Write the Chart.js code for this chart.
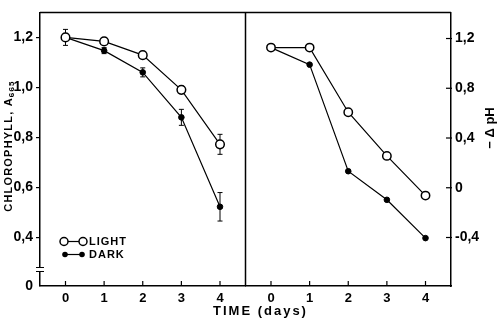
<!DOCTYPE html>
<html>
<head>
<meta charset="utf-8">
<script src="https://cdn.jsdelivr.net/npm/chart.js@4/dist/chart.umd.min.js"></script>
<style>
  html, body { margin: 0; padding: 0; background: #fff; }
  #wrap { width: 501px; height: 318px; }
</style>
</head>
<body>
<div id="wrap"><canvas id="chart" width="501" height="318"></canvas></div>
<script>
// chlorophyll (left) and -ΔpH (right) against time
const days = [0, 1, 2, 3, 4];
const chlLight = [1.20, 1.184, 1.129, 0.99, 0.772];
const chlLightErr = [0.032, 0.01, 0.012, 0.015, 0.04];
const chlDark = [1.20, 1.147, 1.06, 0.88, 0.522];
const chlDarkErr = [0, 0.012, 0.018, 0.032, 0.057];
const phLight = [1.127, 1.127, 0.607, 0.256, -0.063];
const phDark = [1.127, 0.99, 0.133, -0.097, -0.405];
const chlTicks = [0.4, 0.6, 0.8, 1.0, 1.2];
const phTicks = [-0.4, 0, 0.4, 0.8, 1.2];
const chlBottom = 0.205; // shown as "0" after the axis break

const FONT = '"Liberation Sans", Arial, Helvetica, sans-serif';

function pts(ys) {
  return days.map((d, i) => ({ x: d, y: ys[i] }));
}

function commaLabel(v) {
  if (Math.abs(v) < 1e-9) return "0";
  return v.toFixed(1).replace(".", ",");
}

const openStyle = {
  borderColor: "#000", borderWidth: 1.2,
  pointRadius: 4.3, pointBackgroundColor: "#fff",
  pointBorderColor: "#000", pointBorderWidth: 1.5, tension: 0
};
const filledStyle = {
  borderColor: "#000", borderWidth: 1.2,
  pointRadius: 2.8, pointBackgroundColor: "#000",
  pointBorderColor: "#000", pointBorderWidth: 1, tension: 0
};

function line(ctx, x1, y1, x2, y2) {
  ctx.beginPath();
  ctx.moveTo(x1, y1);
  ctx.lineTo(x2, y2);
  ctx.stroke();
}

const extras = {
  id: "extras",
  beforeDatasetsDraw(chart) {
    const ctx = chart.ctx;
    const xs = chart.scales.x1, ys = chart.scales.y1;
    ctx.save();
    ctx.strokeStyle = "#000";
    ctx.lineWidth = 1;
    [[chlLight, chlLightErr], [chlDark, chlDarkErr]].forEach(([vals, errs]) => {
      vals.forEach((v, i) => {
        if (!errs[i]) return;
        const px = xs.getPixelForValue(days[i]);
        const top = ys.getPixelForValue(v + errs[i]);
        const bot = ys.getPixelForValue(v - errs[i]);
        line(ctx, px, top, px, bot);
        line(ctx, px - 2.5, top, px + 2.5, top);
        line(ctx, px - 2.5, bot, px + 2.5, bot);
      });
    });
    ctx.restore();
  },
  afterDraw(chart) {
    const ctx = chart.ctx;
    const a = chart.chartArea;
    const x1 = chart.scales.x1, x2 = chart.scales.x2, y2 = chart.scales.y2;
    ctx.save();
    ctx.strokeStyle = "#000";
    ctx.fillStyle = "#000";
    ctx.lineWidth = 1.5;
    // frame top and divider
    line(ctx, a.left, a.top, a.right, a.top);
    line(ctx, x1.right, a.top, x1.right, a.bottom);
    // inward ticks
    ctx.lineWidth = 1.2;
    [x1, x2].forEach(s => {
      days.forEach(d => {
        const px = s.getPixelForValue(d);
        line(ctx, px, a.bottom, px, a.bottom - 5);
      });
    });
    phTicks.forEach(v => {
      const py = y2.getPixelForValue(v);
      line(ctx, a.right - 5, py, a.right + 1, py);
    });
    // axis break
    ctx.fillStyle = "#fff";
    ctx.fillRect(a.left - 4, 268, 8, 3);
    ctx.fillStyle = "#000";
    ctx.lineWidth = 1;
    line(ctx, a.left - 4, 267.5, a.left + 4, 267.5);
    line(ctx, a.left - 4, 271.5, a.left + 4, 271.5);

    // legend
    ctx.lineWidth = 1.2;
    line(ctx, 68, 241.5, 79, 241.5);
    ctx.lineWidth = 1.5;
    [64, 83].forEach(cx => {
      ctx.beginPath();
      ctx.arc(cx, 241.5, 4, 0, Math.PI * 2);
      ctx.fillStyle = "#fff";
      ctx.fill();
      ctx.stroke();
    });
    ctx.lineWidth = 1.2;
    line(ctx, 65, 254.5, 82, 254.5);
    ctx.fillStyle = "#000";
    [65, 82].forEach(cx => {
      ctx.beginPath();
      ctx.arc(cx, 254.5, 2.8, 0, Math.PI * 2);
      ctx.fill();
    });
    ctx.font = "bold 11px " + FONT;
    ctx.letterSpacing = "1px";
    ctx.textBaseline = "middle";
    ctx.textAlign = "left";
    ctx.fillText("LIGHT", 89, 242);
    ctx.fillText("DARK", 89, 255);

    // x title
    ctx.font = "bold 13px " + FONT;
    ctx.letterSpacing = "2px";
    ctx.fillText("TIME (days)", 213, 311.5);

    // left y title with subscript
    ctx.save();
    ctx.translate(9, 146);
    ctx.rotate(-Math.PI / 2);
    ctx.font = "bold 11px " + FONT;
    ctx.letterSpacing = "1.2px";
    const main = "CHLOROPHYLL, A";
    const wMain = ctx.measureText(main).width;
    ctx.font = "bold 8px " + FONT;
    const wSub = ctx.measureText("665").width;
    const start = -(wMain + wSub) / 2;
    ctx.font = "bold 11px " + FONT;
    ctx.fillText(main, start, 0);
    ctx.font = "bold 8px " + FONT;
    ctx.fillText("665", start + wMain, 2.5);
    ctx.restore();

    // right y title
    ctx.save();
    ctx.translate(490, 128);
    ctx.rotate(-Math.PI / 2);
    ctx.font = "bold 13px " + FONT;
    ctx.letterSpacing = "0px";
    ctx.textAlign = "center";
    ctx.fillText("\u2212 \u0394 pH", 0, 0);
    ctx.restore();

    ctx.restore();
  }
};

const tickFont = { family: FONT, size: 14, weight: "bold" };
const xTickFont = { family: FONT, size: 13, weight: "bold" };
const axisBorder = { display: true, color: "#000", width: 1.5 };

function xScale() {
  return {
    type: "linear", position: "bottom", stack: "time", stackWeight: 1,
    min: -0.66, max: 4.66,
    afterBuildTicks: s => { s.ticks = days.map(v => ({ value: v })); },
    afterFit: s => { s.height = 32; },
    ticks: { color: "#000", font: xTickFont, padding: 5, callback: v => String(v) },
    grid: { display: false, drawTicks: false },
    border: axisBorder
  };
}

new Chart(document.getElementById("chart"), {
  type: "line",
  data: {
    datasets: [
      Object.assign({ label: "LIGHT", data: pts(chlLight), xAxisID: "x1", yAxisID: "y1" }, openStyle),
      Object.assign({ label: "DARK", data: pts(chlDark), xAxisID: "x1", yAxisID: "y1" }, filledStyle),
      Object.assign({ label: "LIGHT pH", data: pts(phLight), xAxisID: "x2", yAxisID: "y2" }, openStyle, { pointRadius: 4.2 }),
      Object.assign({ label: "DARK pH", data: pts(phDark), xAxisID: "x2", yAxisID: "y2" }, filledStyle)
    ]
  },
  options: {
    responsive: false,
    animation: false,
    events: [],
    layout: { padding: { top: 5, left: 0, right: 0, bottom: 0 } },
    plugins: { legend: { display: false }, tooltip: { enabled: false } },
    scales: {
      x1: xScale(),
      x2: xScale(),
      y1: {
        type: "linear", position: "left",
        min: chlBottom, max: 1.3,
        afterBuildTicks: s => { s.ticks = [chlBottom].concat(chlTicks).map(v => ({ value: v })); },
        afterFit: s => { s.width = 40; },
        ticks: {
          color: "#000", font: tickFont, padding: 3,
          callback: v => v < 0.3 ? "0" : commaLabel(v)
        },
        grid: {
          display: true, drawOnChartArea: false, drawTicks: true, tickLength: 4,
          lineWidth: 1.2,
          color: c => (c.tick && c.tick.value < 0.3) ? "rgba(0,0,0,0)" : "#000"
        },
        border: axisBorder
      },
      y2: {
        type: "linear", position: "right",
        min: -0.79, max: 1.41,
        afterBuildTicks: s => { s.ticks = phTicks.map(v => ({ value: v })); },
        afterFit: s => { s.width = 50; },
        ticks: { color: "#000", font: tickFont, padding: 4, callback: v => commaLabel(v) },
        grid: { display: false, drawTicks: false },
        border: axisBorder
      }
    }
  },
  plugins: [extras]
});
</script>
</body>
</html>
